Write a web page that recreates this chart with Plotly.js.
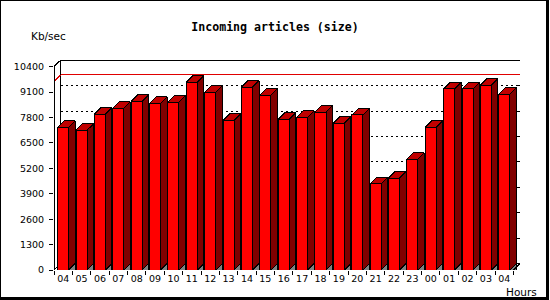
<!DOCTYPE html>
<html><head><meta charset="utf-8">
<script src="https://cdn.plot.ly/plotly-3.0.1.min.js"></script>
<style>
html,body{margin:0;padding:0;background:#fff;}
#chart{position:absolute;left:0;top:0;width:550px;height:300px;}
#chart path{shape-rendering:crispEdges;}
#frame{position:absolute;left:0;top:0;width:549px;height:300px;box-sizing:border-box;border-left:1px solid #000;border-top:1px solid #000;border-right:3px solid #000;border-bottom:3px solid #000;pointer-events:none;}
</style></head>
<body><div id="chart"></div><div id="frame"></div>
<script>
// ---- data ----
const hours = ["04","05","06","07","08","09","10","11","12","13","14","15","16","17","18","19","20","21","22","23","00","01","02","03","04"];
const sizeKb = [7300,7150,7980,8270,8630,8530,8580,9600,9090,7660,9360,8950,7710,7810,8080,7520,7930,4400,4700,5660,7310,9260,9260,9460,9000];
const yTicks = [0,1300,2600,3900,5200,6500,7800,9100,10400];
const refLine = [9650];

// ---- 3D styling constants (depth in data units) ----
const DX = 0.354, DY = 332, W = 0.6;
const N = hours.length;
const xs = hours.map((h,i)=>i);
const yMax = 10743;

// polygons built from data
const sidePoly = {x:[],y:[]}, topPoly = {x:[],y:[]}, triPoly = {x:[],y:[]};
xs.forEach((i,k)=>{
  const v = sizeKb[k], l = i - W/2, r = i + W/2;
  sidePoly.x.push(r, r+DX, r+DX, r, r, null);
  sidePoly.y.push(0, DY, v+DY, v, 0, null);
  topPoly.x.push(l, l+DX, r+DX, r, l, null);
  topPoly.y.push(v, v+DY, v+DY, v, v, null);
  triPoly.x.push(r, r+DX, r+DX, r, null);
  triPoly.y.push(0, DY, 0, 0, null);
});

const traces = [
  {type:'bar', x:xs, y:sizeKb, width:W, marker:{color:'#ff0000', line:{color:'#000', width:1}}, hoverinfo:'skip'},
  {type:'scatter', mode:'lines', x:sidePoly.x, y:sidePoly.y, fill:'toself', fillcolor:'#800000', line:{color:'#000', width:1}, hoverinfo:'skip'},
  {type:'scatter', mode:'lines', x:topPoly.x, y:topPoly.y, fill:'toself', fillcolor:'#c00000', line:{color:'#000', width:1}, hoverinfo:'skip'},
  {type:'scatter', mode:'lines', x:triPoly.x, y:triPoly.y, fill:'toself', fillcolor:'#808080', line:{color:'#000', width:1}, hoverinfo:'skip'}
];

const x0 = -0.5, x1 = N - 0.5;
const yTop = yTicks[yTicks.length-1];
const shapes = [];
const ln = (a,b,c,d,extra)=>Object.assign({type:'line', xref:'x', yref:'y', x0:a, y0:b, x1:c, y1:d, line:{color:'#000', width:1}, layer:'below'}, extra||{});
// back wall
shapes.push({type:'rect', xref:'x', yref:'y', x0:x0+DX, y0:DY, x1:x1+DX, y1:yTop+DY, line:{color:'#000', width:1}, layer:'below'});
// grid
yTicks.forEach(v=>{
  if (v>0 && v<yTop) {
    shapes.push(ln(x0+DX, v+DY, x1+DX, v+DY, {line:{color:'#000', width:1, dash:'2px,3px'}}));
    shapes.push(ln(x1+DX-0.15, v+DY, x1+DX, v+DY));
  }
});
// reference line
refLine.forEach(v=>{
  shapes.push(ln(x0, v, x0+DX, v+DY, {line:{color:'#e00000', width:1}}));
  shapes.push(ln(x0+DX, v+DY, x1+DX, v+DY, {line:{color:'#e00000', width:1}}));
});
// floor edges
shapes.push(ln(x0, 0, x0+DX, DY));
shapes.push(ln(x1, 0, x1+DX, DY, {layer:'above'}));
// front axes
shapes.push(ln(x0, 0, x0, yTop, {layer:'above'}));
shapes.push(ln(x0, yTop, x0+DX, yTop+DY, {layer:'above'}));
shapes.push(ln(x0, 0, x1, 0, {layer:'above'}));

const boundaries = [];
for (let i=0;i<=N;i++) boundaries.push(i-0.5);

const layout = {
  width:550, height:300,
  margin:{l:54, r:30, t:60, b:30, pad:0},
  paper_bgcolor:'#fff', plot_bgcolor:'#fff',
  showlegend:false,
  title:{text:'Incoming articles (size)', font:{family:'DejaVu Sans Mono', size:11.6, color:'#000', weight:'bold'}, x:0.5, xref:'container', xanchor:'center', y:1-26.5/300, yref:'container', yanchor:'middle'},
  xaxis:{range:[x0, x1+DX], tickmode:'array', tickvals:xs, ticktext:hours, ticks:'', showgrid:false, zeroline:false, showline:false,
    ticklabelstandoff:1,
    tickfont:{family:'DejaVu Sans', size:9.5, color:'#000'},
    minor:{tickmode:'array', tickvals:boundaries, ticks:'outside', ticklen:4, tickwidth:1, tickcolor:'#000', showgrid:false}},
  yaxis:{range:[0, yMax], tickmode:'array', tickvals:yTicks, ticktext:yTicks.map(String), ticks:'outside', ticklen:4, tickwidth:1, tickcolor:'#000',
    showgrid:false, zeroline:false, showline:false, ticklabelstandoff:3,
    tickfont:{family:'DejaVu Sans', size:9.5, color:'#000'}},
  shapes:shapes,
  annotations:[
    {text:'Kb/sec', xref:'paper', yref:'paper', x:(29.3-54)/466, y:(270-36.5)/210, xanchor:'left', yanchor:'middle', showarrow:false, font:{family:'DejaVu Sans', size:10.5, color:'#000'}},
    {text:'Hours', xref:'paper', yref:'paper', x:(504-54)/466, y:(270-292)/210, xanchor:'left', yanchor:'middle', showarrow:false, font:{family:'DejaVu Sans', size:10.5, color:'#000'}}
  ]
};
Plotly.newPlot('chart', traces, layout, {staticPlot:true, displayModeBar:false});
</script></body></html>
